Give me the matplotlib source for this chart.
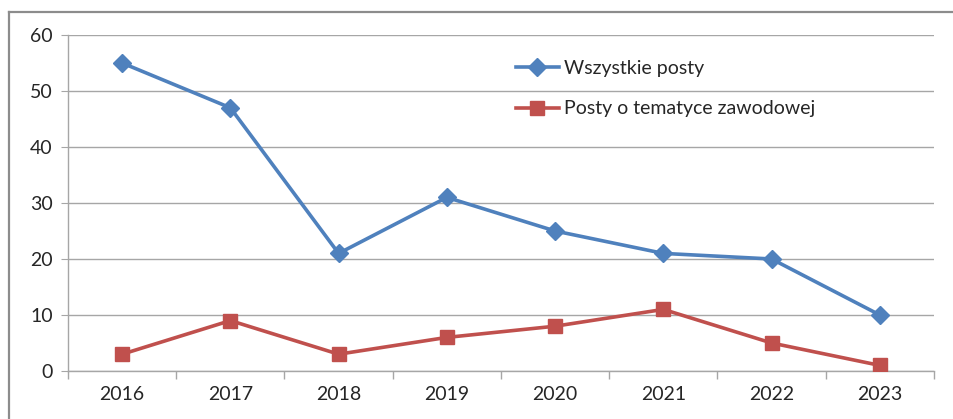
import matplotlib
matplotlib.use("Agg")
import matplotlib.pyplot as plt
from matplotlib.lines import Line2D
import numpy as np

years = ["2016", "2017", "2018", "2019", "2020", "2021", "2022", "2023"]
all_posts = [55, 47, 21, 31, 25, 21, 20, 10]
work_posts = [3, 9, 3, 6, 8, 11, 5, 1]
series_labels = ["Wszystkie posty", "Posty o tematyce zawodowej"]
y_ticks = [0, 10, 20, 30, 40, 50, 60]

plt.rcParams['font.family'] = ['Lato', 'DejaVu Sans']

W, H = 954, 419
fig = plt.figure(figsize=(W / 100, H / 100), dpi=100)
ax = fig.add_axes([68 / W, 1 - 371 / H, (934 - 68) / W, (371 - 35) / H])

x = np.arange(len(years))
blue = "#4F81BD"
red = "#C0504D"
ax.plot(x, all_posts, color=blue, lw=2.6, marker="D", markersize=9,
        label=series_labels[0], zorder=3)
ax.plot(x, work_posts, color=red, lw=2.6, marker="s", markersize=10.5,
        label=series_labels[1], zorder=3)

ax.set_xlim(-0.5, len(years) - 0.5)
ax.set_ylim(0, 60)
ax.set_yticks(y_ticks)
ax.set_yticklabels([str(v) for v in y_ticks])
ax.set_xticks(x)
ax.set_xticklabels(years)
ax.set_xticks(np.arange(-0.5, len(years)), minor=True)

grid_c = "#A6A6A6"
ax.grid(axis="y", color=grid_c, lw=1)
ax.set_axisbelow(True)
for s in ["top", "right"]:
    ax.spines[s].set_visible(False)
ax.spines["left"].set_color(grid_c)
ax.spines["bottom"].set_color(grid_c)
ax.spines["left"].set_linewidth(1)
ax.spines["bottom"].set_linewidth(1)

fs = 14
ax.tick_params(axis="y", which="major", length=5, color=grid_c, labelsize=fs,
               labelcolor="#262626", pad=6)
ax.tick_params(axis="x", which="major", length=0, labelsize=fs,
               labelcolor="#262626", pad=11)
ax.tick_params(axis="x", which="minor", length=6, color=grid_c, width=1)

leg = ax.legend(loc="upper left", bbox_to_anchor=((516 - 68) / (934 - 68), 1 - (60 - 35) / 336),
                frameon=False, fontsize=fs, handlelength=2.2, handletextpad=0.25,
                labelspacing=1.2, borderaxespad=0, borderpad=0)
for t in leg.get_texts():
    t.set_color("#262626")

# outer chart border (top and left visible)
border_c = "#8C8C8C"
fig.add_artist(Line2D([9 / W, 1], [1 - 12 / H, 1 - 12 / H], transform=fig.transFigure,
                      color=border_c, lw=1.6))
fig.add_artist(Line2D([9 / W, 9 / W], [0, 1 - 12 / H], transform=fig.transFigure,
                      color=border_c, lw=1.6))

fig.savefig("out.png", dpi=100)
